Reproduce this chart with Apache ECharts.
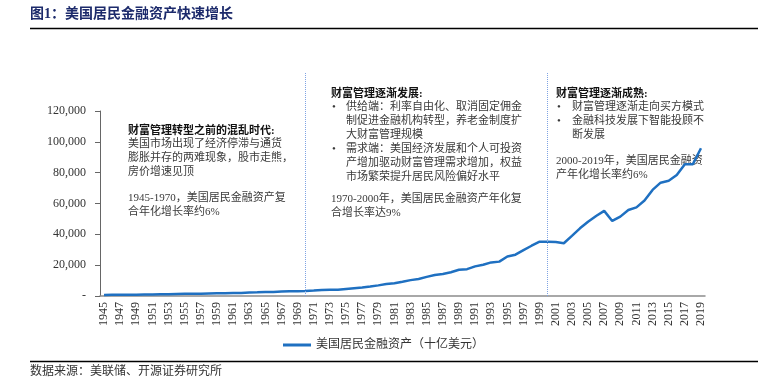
<!DOCTYPE html>
<html><head><meta charset="utf-8">
<script src="https://cdn.jsdelivr.net/npm/echarts@6/dist/echarts.min.js"></script>
<style>html,body{margin:0;padding:0;background:#fff}#c{width:761px;height:391px}</style>
</head><body><div id="c"></div>
<script>
const years = [];
for (let y = 1945; y <= 2019; y++) years.push(String(y));
const assets = [
  700, 750, 800, 830, 870, 950, 1000, 1080, 1120, 1250,
  1380, 1460, 1480, 1650, 1760, 1820, 2000, 2020, 2200, 2370,
  2560, 2560, 2850, 3100, 3100, 3250, 3550, 3950, 4050, 4100,
  4600, 5100, 5500, 6100, 6900, 7800, 8300, 9200, 10300, 11000,
  12400, 13600, 14300, 15400, 17000, 17400, 19200, 20300, 21800, 22300,
  25600, 26800, 29800, 32600, 35200, 35200, 35000, 34200, 39000, 43900,
  48200, 51900, 55200, 48700, 51500, 55800, 57500, 61900, 68800, 73500,
  74800, 78500, 85500, 85500, 95800
];
const yTicks = [0, 20000, 40000, 60000, 80000, 100000, 120000];
const seriesName = '美国居民金融资产（十亿美元）';
const eraLines = ['1970', '2000'];

const CN = '"Liberation Serif","Noto Sans CJK SC",serif';
const chart = echarts.init(document.getElementById('c'));
const txt = (x, y, s, bold) => ({
  type: 'text', left: x, top: y,
  style: { text: s, font: (bold ? 'bold ' : '') + '11px ' + CN, fill: bold ? '#111' : '#3a3a3a', lineHeight: 14 }
});
chart.setOption({
  animation: false,
  grid: [
    { left: 100, right: 56, top: 111, bottom: 95 },
    { left: 100, right: 56, top: 72, bottom: 95 }
  ],
  xAxis: [{
    type: 'category', data: years, boundaryGap: true,
    axisLine: { lineStyle: { color: '#8c8c8c', width: 1.5 } },
    axisTick: { inside: true, length: 4, interval: 0, lineStyle: { color: '#666' } },
    axisLabel: { rotate: 90, interval: 1, margin: 6, color: '#333', fontFamily: 'Liberation Serif', fontSize: 12 }
  }, {
    gridIndex: 1, type: 'category', data: years, boundaryGap: true, show: false
  }],
  yAxis: [{
    type: 'value', min: 0, max: 120000, interval: 20000,
    splitLine: { show: false },
    axisLine: { show: true, lineStyle: { color: '#666' } },
    axisTick: { show: true, length: 5, lineStyle: { color: '#666' } },
    axisLabel: { margin: 14, color: '#333', fontFamily: 'Liberation Serif', fontSize: 12,
      formatter: v => v === 0 ? '-' : v.toLocaleString('en-US') }
  }, {
    gridIndex: 1, type: 'value', min: 0, max: 1, show: false, splitLine: { show: false }
  }],
  legend: {
    bottom: 35, left: 278, itemWidth: 28, itemHeight: 3, icon: 'rect', itemGap: 6,
    textStyle: { fontFamily: CN, fontSize: 12, color: '#333' },
    data: [seriesName]
  },
  series: [{
    name: 'eras', type: 'line', xAxisIndex: 1, yAxisIndex: 1, data: [], symbol: 'none', z: 1,
    markLine: {
      silent: true, symbol: 'none', label: { show: false },
      lineStyle: { color: '#7fa3e3', type: 'dotted', width: 1 },
      data: eraLines.map(y => ({ xAxis: y }))
    }
  }, {
    name: seriesName, type: 'line', data: assets, symbol: 'none', z: 3,
    lineStyle: { color: '#1f70c1', width: 2.5 }, itemStyle: { color: '#1f70c1' }
  }],
  graphic: [
    { type: 'text', left: 30, top: 7, style: { text: '图1：美国居民金融资产快速增长', font: 'bold 14px ' + CN, fill: '#1c2a6b' } },
    { type: 'line', shape: { x1: 30, y1: 28.5, x2: 758, y2: 28.5 }, style: { stroke: '#000', lineWidth: 1.5 } },
    { type: 'line', shape: { x1: 30, y1: 361.5, x2: 758, y2: 361.5 }, style: { stroke: '#000', lineWidth: 1.5 } },
    { type: 'text', left: 30, top: 366, style: { text: '数据来源：美联储、开源证券研究所', font: '12px ' + CN, fill: '#333' } },

    txt(128, 124, '财富管理转型之前的混乱时代:', true),
    txt(128, 137, '美国市场出现了经济停滞与通货\n膨胀并存的两难现象，股市走熊，\n房价增速见顶'),
    txt(128, 191, '1945-1970，美国居民金融资产复\n合年化增长率约6%'),

    txt(331, 87, '财富管理逐渐发展:', true),
    txt(332, 100, '•\n\n\n•'),
    txt(346, 100, '供给端：利率自由化、取消固定佣金\n制促进金融机构转型，养老金制度扩\n大财富管理规模\n需求端：美国经济发展和个人可投资\n产增加驱动财富管理需求增加，权益\n市场繁荣提升居民风险偏好水平'),
    txt(331, 192, '1970-2000年，美国居民金融资产年化复\n合增长率达9%'),

    txt(556, 87, '财富管理逐渐成熟:', true),
    txt(557, 100, '•\n•'),
    txt(572, 100, '财富管理逐渐走向买方模式\n金融科技发展下智能投顾不\n断发展'),
    txt(556, 154, '2000-2019年，美国居民金融资\n产年化增长率约6%')
  ]
});
</script></body></html>
